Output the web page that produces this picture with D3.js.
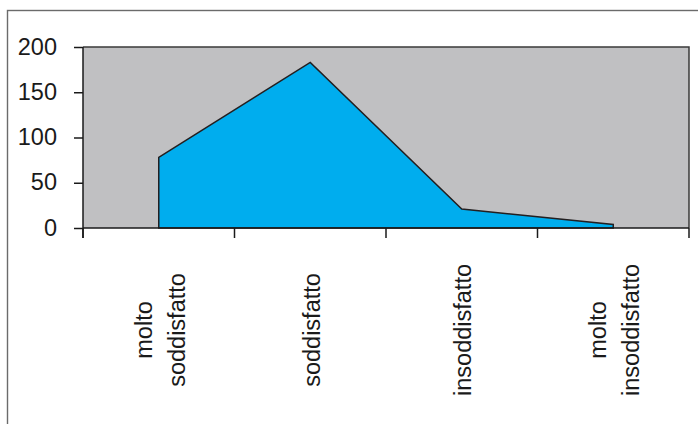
<!DOCTYPE html>
<html>
<head>
<meta charset="utf-8">
<script src="https://cdn.jsdelivr.net/npm/d3@7"></script>
<style>
  body { margin: 0; background: #ffffff; }
  svg { display: block; }
</style>
</head>
<body>
<div id="chart"></div>
<script>
// data
const categories = ["molto soddisfatto", "soddisfatto", "insoddisfatto", "molto insoddisfatto"];
const values = [78, 183, 21, 4];
const yTicks = [0, 50, 100, 150, 200];

const width = 698, height = 424;
const plotLeft = 83, plotRight = 689, plotTop = 47, plotBottom = 228;
const fontFamily = "'Liberation Sans', Arial, sans-serif";
const fontSize = 23.5;

const $svg = d3.select("#chart")
    .append("svg")
    .attr("width", width)
    .attr("height", height);

//outer frame (right and bottom run off the picture)
$svg.append("rect")
    .attr("x", 7.5).attr("y", 10.5)
    .attr("width", 700).attr("height", 430)
    .attr("fill", "#ffffff")
    .attr("stroke", "#6b6b6b")
    .attr("stroke-width", 1.4);

const x = d3.scaleBand()
    .domain(categories)
    .range([plotLeft, plotRight])
    .paddingInner(0).paddingOuter(0);

const y = d3.scaleLinear()
    .domain([0, 200])
    .range([plotBottom, plotTop]);

const cx = d => x(d) + x.bandwidth() / 2;

//plot area
$svg.append("rect")
    .attr("x", plotLeft).attr("y", plotTop)
    .attr("width", plotRight - plotLeft).attr("height", plotBottom - plotTop)
    .attr("fill", "#c0c0c2");

$svg.append("path")
    .attr("d", `M${plotLeft},${plotTop}H${plotRight}V${plotBottom}`)
    .attr("fill", "none")
    .attr("stroke", "#3a3a3a")
    .attr("stroke-width", 1.5);

//area series
const area = d3.area()
    .x((d, i) => cx(categories[i]))
    .y0(y(0))
    .y1(d => y(d));

$svg.append("path")
    .datum(values)
    .attr("d", area)
    .attr("fill", "#00adee")
    .attr("stroke", "#231f20")
    .attr("stroke-width", 1.5)
    .attr("stroke-linejoin", "miter");

//y axis
const yAxis = d3.axisLeft(y)
    .tickValues(yTicks)
    .tickSize(9)
    .tickFormat(d3.format("d"));

const gy = $svg.append("g")
    .attr("transform", `translate(${plotLeft},0)`)
    .call(yAxis);
gy.select(".domain").remove();
gy.selectAll(".tick line").attr("stroke", "#1a1a1a").attr("stroke-width", 1.5);
gy.selectAll(".tick text")
    .attr("x", -26)
    .attr("dy", null)
    .attr("y", 7)
    .attr("fill", "#1a1a1a")
    .attr("font-family", fontFamily)
    .attr("font-size", fontSize);

$svg.append("line")
    .attr("x1", plotLeft).attr("x2", plotLeft)
    .attr("y1", plotTop).attr("y2", plotBottom + 10)
    .attr("stroke", "#1a1a1a").attr("stroke-width", 1.5);

//x axis: ticks at the band edges
const edges = categories.map(d => x(d)).concat([x(categories[categories.length - 1]) + x.bandwidth()]);
$svg.append("line")
    .attr("x1", plotLeft).attr("x2", plotRight)
    .attr("y1", plotBottom).attr("y2", plotBottom)
    .attr("stroke", "#1a1a1a").attr("stroke-width", 1.5);
$svg.selectAll(".xtick")
    .data(edges)
    .join("line")
    .attr("class", "xtick")
    .attr("x1", d => d).attr("x2", d => d)
    .attr("y1", plotBottom).attr("y2", plotBottom + 10)
    .attr("stroke", "#1a1a1a").attr("stroke-width", 1.5);

//category labels, rotated, centred on each band
const lineGap = 33;
categories.forEach(cat => {
    const lines = cat.split(" ");
    const n = lines.length;
    lines.forEach((t, i) => {
        $svg.append("text")
            .attr("transform", `translate(${cx(cat) + 9.5 + (i - (n - 1) / 2) * lineGap},330) rotate(-90)`)
            .attr("text-anchor", "middle")
            .attr("fill", "#1a1a1a")
            .attr("font-family", fontFamily)
            .attr("font-size", fontSize)
            .text(t);
    });
});
</script>
</body>
</html>
